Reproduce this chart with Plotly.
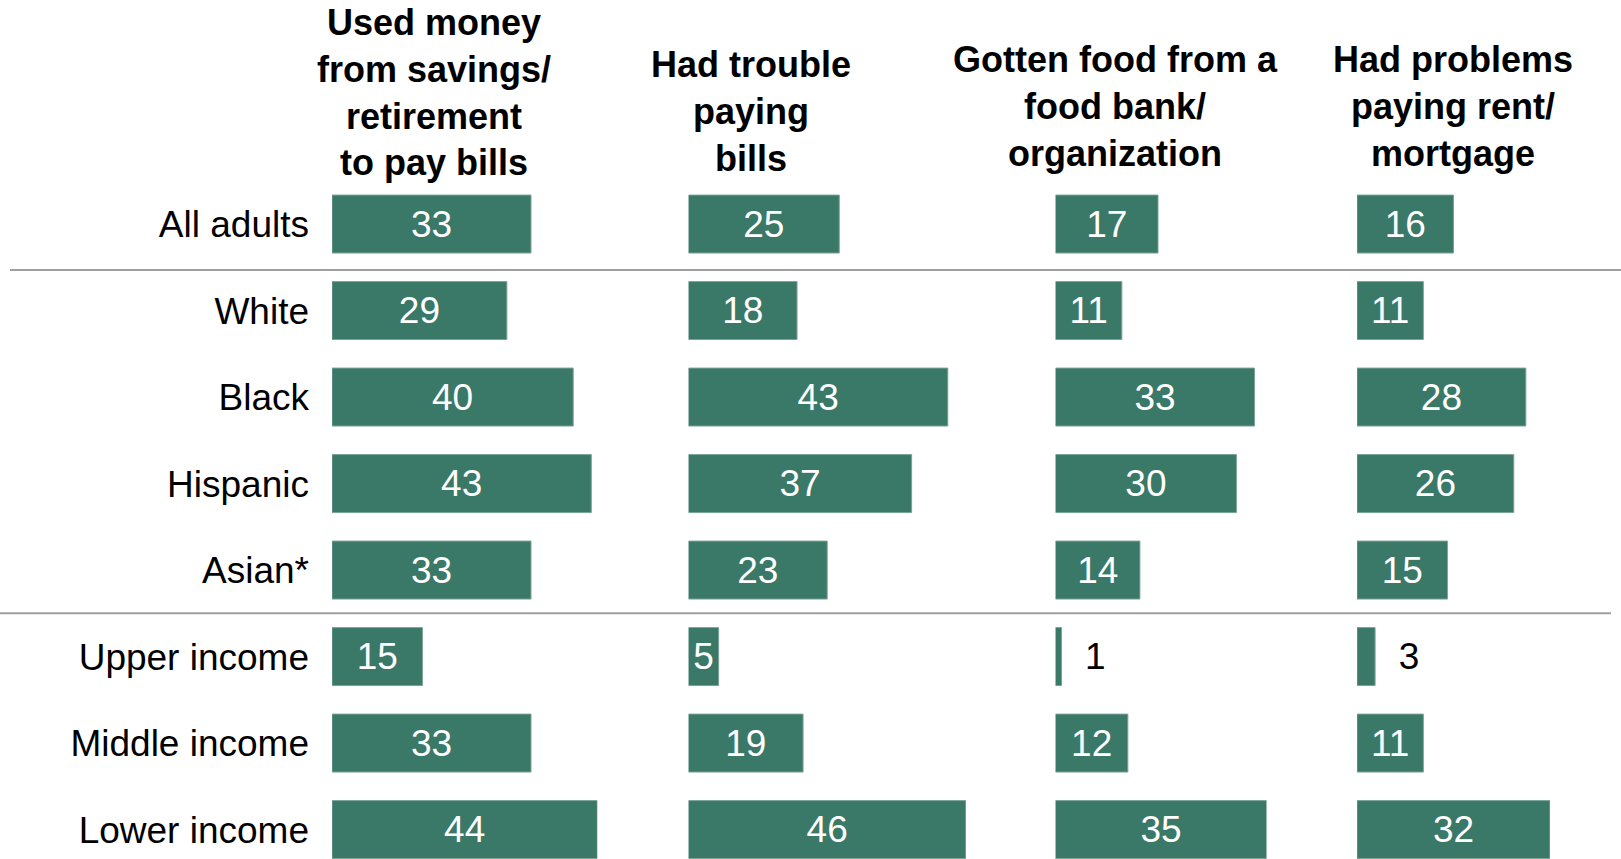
import plotly.graph_objs as go

# data (% of adults)
groups = ['All adults', 'White', 'Black', 'Hispanic', 'Asian*',
          'Upper income', 'Middle income', 'Lower income']
savings = [33, 29, 40, 43, 33, 15, 33, 44]
bills = [25, 18, 43, 37, 23, 5, 19, 46]
food = [17, 11, 33, 30, 14, 1, 12, 35]
rent = [16, 11, 28, 26, 15, 3, 11, 32]

headers = [
    'Used money<br>from savings/<br>retirement<br>to pay bills',
    'Had trouble<br>paying<br>bills',
    'Gotten food from a<br>food bank/<br>organization',
    'Had problems<br>paying rent/<br>mortgage',
]
series = [savings, bills, food, rent]

W, H = 1621, 859
FONT = 'Liberation Sans, Arial, sans-serif'
GREEN = '#3a7868'
PX_PER_UNIT = 6.03
col_start = [332, 688.5, 1055.5, 1357]   # left edge of each panel, px
header_x = [434, 751, 1115, 1453]        # centre of each header, px
header_bottom = [185, 181, 176, 176]     # bottom of each header block, px from top

traces = []
layout = go.Layout(
    width=W, height=H,
    margin=dict(l=0, r=0, t=0, b=0),
    plot_bgcolor='white', paper_bgcolor='white',
    showlegend=False,
    bargap=0.33,
    uniformtext=dict(minsize=37, mode='show'),
    font=dict(family=FONT, color='black'),
)

for i, vals in enumerate(series):
    ax = '' if i == 0 else str(i + 1)
    top = max(vals)
    x0 = col_start[i] / W
    x1 = (col_start[i] + top * PX_PER_UNIT) / W
    small = [v < 5 for v in vals]
    traces.append(go.Bar(
        x=vals, y=groups, orientation='h',
        xaxis='x' + ax, yaxis='y',
        marker=dict(color=GREEN, line=dict(color='#7aa397', width=1)),
        text=['\u00a0\u00a0' + str(v) if s else str(v) for v, s in zip(vals, small)],
        textposition=['outside' if s else 'inside' for s in small],
        insidetextanchor='middle',
        textfont=dict(size=37, family=FONT,
                      color=['black' if s else 'white' for s in small]),
        cliponaxis=False,
        hoverinfo='skip',
    ))
    layout['xaxis' + ax] = dict(domain=[x0, x1], range=[0, top], anchor='y',
                                visible=False, fixedrange=True)
    layout.annotations += (dict(
        text=headers[i], xref='paper', yref='paper',
        x=header_x[i] / W, y=1 - header_bottom[i] / H,
        xanchor='center', yanchor='bottom', showarrow=False,
        font=dict(size=36, family=FONT, color='black', weight='bold'),
    ),)

layout['yaxis'] = dict(
    categoryorder='array', categoryarray=groups,
    range=[7.34, -2.59], showgrid=False, zeroline=False, showline=False,
    ticks='', ticklabelstandoff=22,
    tickfont=dict(size=37, family=FONT, color='black'),
    fixedrange=True,
)

# separators between the groups of rows
layout.shapes = (
    dict(type='line', xref='paper', yref='y', x0=10 / W, x1=1,
         y0=0.53, y1=0.53, line=dict(color='#a0a0a0', width=2)),
    dict(type='line', xref='paper', yref='y', x0=0, x1=1611 / W,
         y0=4.5, y1=4.5, line=dict(color='#a0a0a0', width=2)),
)

fig = go.Figure(data=traces, layout=layout)
# drop the page margin so the chart fills the window from the top-left corner
fig.write_html('out.html', config={'displayModeBar': False},
               post_script="document.body.style.margin='0';")
